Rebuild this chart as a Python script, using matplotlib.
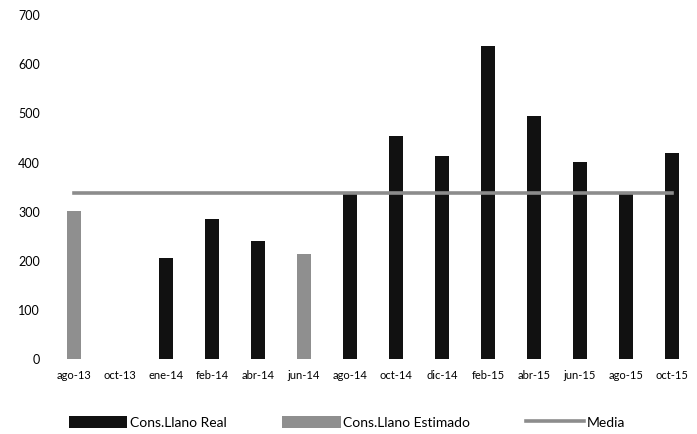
import matplotlib
matplotlib.use("Agg")
import matplotlib.pyplot as plt
import numpy as np

# datos
meses = ['ago-13', 'oct-13', 'ene-14', 'feb-14', 'abr-14', 'jun-14', 'ago-14',
         'oct-14', 'dic-14', 'feb-15', 'abr-15', 'jun-15', 'ago-15', 'oct-15']
real = [0, 0, 205, 285, 241, 0, 335, 453, 414, 637, 495, 402, 336, 419]
estimado = [302, 0, 0, 0, 0, 213, 0, 0, 0, 0, 0, 0, 0, 0]
media = [338] * len(meses)

plt.rcParams['font.family'] = ['Lato', 'DejaVu Sans']

fig = plt.figure(figsize=(6.97, 4.34), dpi=100)
ax = fig.add_axes([0.073, 0.173, 0.924, 0.792])

x = np.arange(len(meses))
w = 0.3
b1 = ax.bar(x, real, width=w, color='#111111', label='Cons.Llano Real', zorder=2)
b2 = ax.bar(x, estimado, width=w, color='#8f8f8f', label='Cons.Llano Estimado', zorder=2)
l1, = ax.plot(x, media, color='#8c8c8c', lw=2.6, label='Media', zorder=3)

ax.set_xlim(-0.5, len(meses) - 0.5)
ax.set_ylim(0, 700)
ax.set_yticks(range(0, 701, 100))
ax.set_xticks(x)
ax.set_xticklabels(meses, fontsize=8)
ax.tick_params(axis='y', labelsize=9, length=0, pad=8)
ax.tick_params(axis='x', length=0, pad=8)
for s in ax.spines.values():
    s.set_visible(False)

ax.legend(handles=[b1, b2, l1], loc='upper center', bbox_to_anchor=(0.46, -0.13), ncol=3,
          frameon=False, fontsize=10, handlelength=4.2, handleheight=0.9,
          columnspacing=4, handletextpad=0.2)

plt.savefig('out.png', dpi=100, facecolor='white')
